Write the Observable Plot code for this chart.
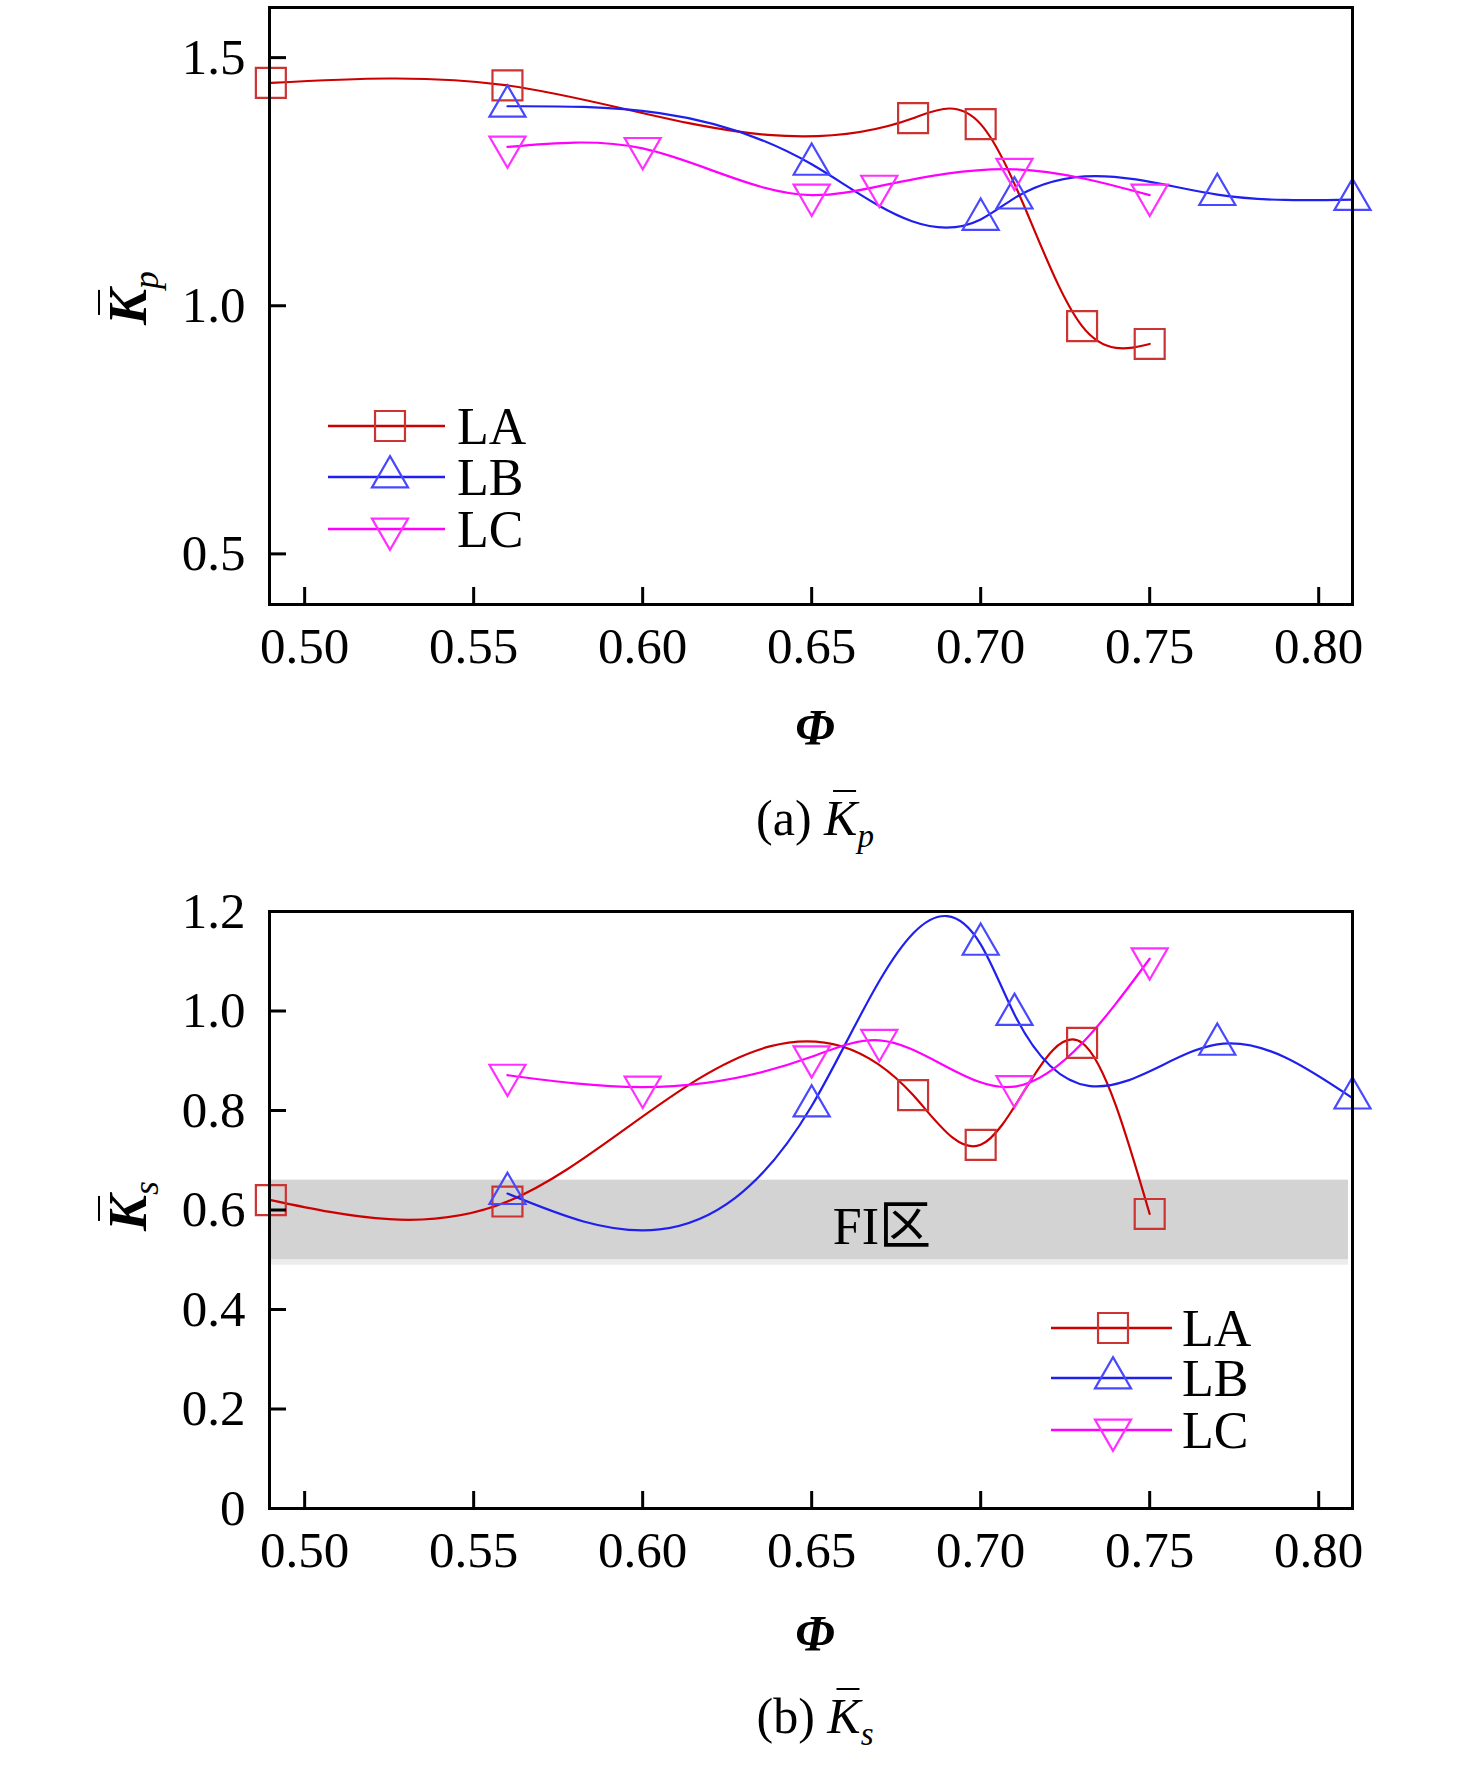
<!DOCTYPE html>
<html>
<head>
<meta charset="utf-8">
<script src="https://cdn.jsdelivr.net/npm/d3@7"></script>
<script src="https://cdn.jsdelivr.net/npm/@observablehq/plot@0.6"></script>
<style>
  body { margin: 0; background: #fff; }
  #wrap { position: relative; width: 1476px; height: 1772px; background: #fff;
          font-family: "Liberation Serif", "Times New Roman", serif; color: #000; overflow: hidden; }
  #wrap > svg { position: absolute; left: 0; }
  .lbl { position: absolute; transform: translate(-50%, -50%); white-space: nowrap; line-height: 1; }
  .ylab { transform: translate(-50%, -50%) rotate(-90deg); }
  .k { font-style: italic; position: relative; display: inline-block; }
  .k::before { content: ""; position: absolute; left: 0.18em; right: 0.02em; top: -0.06em; border-top: 0.05em solid #000; }
  .sub { font-style: italic; font-size: 0.66em; position: relative; top: 0.35em; }
</style>
</head>
<body>
<div id="wrap"></div>
<script>
// ---------- data ----------
const seriesNames = ["LA", "LB", "LC"];
const xDomain = [0.4896, 0.81];
const xTicks = [0.50, 0.55, 0.60, 0.65, 0.70, 0.75, 0.80];
const yDomainA = [0.398, 1.601];
const yTicksA = [0.5, 1.0, 1.5];
const yDomainB = [0, 1.2];
const yTicksB = [0, 0.2, 0.4, 0.6, 0.8, 1.0, 1.2];
const fiZone = [0.5, 0.66];
const fiEdge = [0.489, 0.5];

const phiLA = [0.49, 0.56, 0.68, 0.70, 0.73, 0.75];
const phiLB = [0.56, 0.65, 0.70, 0.71, 0.77, 0.81];
const phiLC = [0.56, 0.60, 0.65, 0.67, 0.71, 0.75];

// (a) mean Kp
const kpLA = [1.449, 1.444, 1.378, 1.366, 0.959, 0.923];
const kpLB = [1.402, 1.285, 1.174, 1.217, 1.224, 1.214];
const kpLC = [1.320, 1.317, 1.223, 1.241, 1.275, 1.223];
// (b) mean Ks
const ksLA = [0.620, 0.617, 0.831, 0.731, 0.936, 0.592];
const ksLB = [0.633, 0.809, 1.134, 0.993, 0.933, 0.825];
const ksLC = [0.871, 0.847, 0.908, 0.941, 0.848, 1.105];

const lineColors = ["#cc0000", "#2020ee", "#ff00ff"];
const markerColors = ["#cc3333", "#4848ff", "#ff30ff"];
const symbols = ["square", "triangle", "triangle"];
const rotations = [0, 0, 180];
const radii = [16.9, 13.4, 13.4];

// ---------- natural cubic spline y(x) curve ----------
function curveNaturalX(context) {
  return {
    areaStart() {}, areaEnd() {},
    lineStart() { this.X = []; this.Y = []; },
    point(x, y) { this.X.push(+x); this.Y.push(+y); },
    lineEnd() {
      const X = this.X, Y = this.Y, n = X.length, c = context;
      if (!n) return;
      c.moveTo(X[0], Y[0]);
      if (n === 2) { c.lineTo(X[1], Y[1]); return; }
      const h = [], s = [];
      for (let i = 0; i < n - 1; i++) { h[i] = X[i + 1] - X[i]; s[i] = (Y[i + 1] - Y[i]) / h[i]; }
      const m = n - 2, a = [], b = [], cc = [], d = [];
      for (let i = 1; i < n - 1; i++) { a.push(h[i - 1]); b.push(2 * (h[i - 1] + h[i])); cc.push(h[i]); d.push(6 * (s[i] - s[i - 1])); }
      for (let i = 1; i < m; i++) { const w = a[i] / b[i - 1]; b[i] -= w * cc[i - 1]; d[i] -= w * d[i - 1]; }
      const sol = new Array(m);
      sol[m - 1] = d[m - 1] / b[m - 1];
      for (let i = m - 2; i >= 0; i--) sol[i] = (d[i] - cc[i] * sol[i + 1]) / b[i];
      const M = [0, ...sol, 0];
      for (let i = 0; i < n - 1; i++) {
        const hh = h[i];
        const d0 = s[i] - hh * (2 * M[i] + M[i + 1]) / 6;
        const d1 = s[i] + hh * (M[i] + 2 * M[i + 1]) / 6;
        c.bezierCurveTo(X[i] + hh / 3, Y[i] + d0 * hh / 3, X[i + 1] - hh / 3, Y[i + 1] - d1 * hh / 3, X[i + 1], Y[i + 1]);
      }
    }
  };
}

function rows(xs, ys) { return xs.map((x, i) => ({x, y: ys[i]})); }

function panel({yDomain, yTicks, yFmt, height, marginTop, marginBottom, series, under = []}) {
  const marks = [...under];
  series.forEach((d, i) => {
    marks.push(Plot.line(d, {x: "x", y: "y", stroke: lineColors[i], strokeWidth: 2.2, curve: curveNaturalX}));
  });
  series.forEach((d, i) => {
    marks.push(Plot.dot(d, {x: "x", y: "y", symbol: symbols[i], r: radii[i], rotate: rotations[i],
      stroke: markerColors[i], strokeWidth: 2.2, fill: "none"}));
  });
  marks.push(
    Plot.axisX({ticks: xTicks, tickFormat: d => d.toFixed(2), tickSize: -17, tickPadding: 39, strokeWidth: 3, label: null}),
    Plot.axisY({ticks: yTicks, tickFormat: yFmt, tickSize: -17, tickPadding: 41, strokeWidth: 3, label: null}),
    Plot.frame({strokeWidth: 3, stroke: "#000"})
  );
  return Plot.plot({
    width: 1476, height, marginLeft: 269, marginRight: 124, marginTop, marginBottom,
    x: {domain: xDomain}, y: {domain: yDomain},
    style: {fontFamily: "'Liberation Serif', 'Times New Roman', serif", fontSize: "51px", color: "#000", background: "transparent", overflow: "visible"},
    marks
  });
}

const wrap = document.getElementById("wrap");

const svgA = panel({
  yDomain: yDomainA, yTicks: yTicksA, yFmt: d => d.toFixed(1),
  height: 690, marginTop: 7, marginBottom: 86,
  series: [rows(phiLA, kpLA), rows(phiLB, kpLB), rows(phiLC, kpLC)]
});
svgA.style.top = "0px";
wrap.appendChild(svgA);

const svgB = panel({
  yDomain: yDomainB, yTicks: yTicksB, yFmt: d => d === 0 ? "0" : d.toFixed(1),
  height: 720, marginTop: 31, marginBottom: 92,
  series: [rows(phiLA, ksLA), rows(phiLB, ksLB), rows(phiLC, ksLC)],
  under: [
    Plot.rect([{y1: fiEdge[0], y2: fiEdge[1]}], {y1: "y1", y2: "y2", fill: "#ececec", insetRight: 4}),
    Plot.rect([{y1: fiZone[0], y2: fiZone[1]}], {y1: "y1", y2: "y2", fill: "#d3d3d3", insetRight: 4})
  ]
});
svgB.style.top = "880px";
wrap.appendChild(svgB);

// ---------- text overlays ----------
function addText(html, x, y, cls = "", size = 50) {
  const el = document.createElement("div");
  el.className = "lbl " + cls;
  el.style.left = x + "px";
  el.style.top = y + "px";
  el.style.fontSize = size + "px";
  el.innerHTML = html;
  wrap.appendChild(el);
}
addText('<span class="k" style="font-weight:bold">K</span><span class="sub">p</span>', 128, 298, "ylab", 54);
addText('<span class="k" style="font-weight:bold">K</span><span class="sub">s</span>', 128, 1206, "ylab", 54);
addText('<b><i>Φ</i></b>', 815, 727, "", 50);
addText('<b><i>Φ</i></b>', 815, 1633, "", 50);
addText('(a) <span class="k">K</span><span class="sub">p</span>', 815, 818, "", 50);
addText('(b) <span class="k">K</span><span class="sub">s</span>', 815, 1716, "", 50);
addText('FI<span style="font-family:\'Noto Sans CJK SC\'">区</span>', 882, 1224, "", 52);

// ---------- legends ----------
const leg = d3.select(wrap).append("svg")
  .attr("width", 1476).attr("height", 1772)
  .style("position", "absolute").style("top", "0px").style("left", "0px")
  .style("pointer-events", "none");
function legend(x0, x1, xm, xt, ys) {
  seriesNames.forEach((name, i) => {
    const y = ys[i];
    leg.append("line").attr("x1", x0).attr("x2", x1).attr("y1", y).attr("y2", y)
      .attr("stroke", lineColors[i]).attr("stroke-width", 2.4);
    leg.append("path")
      .attr("d", d3.symbol(i === 0 ? d3.symbolSquare : d3.symbolTriangle, Math.PI * radii[i] * radii[i])())
      .attr("transform", `translate(${xm},${y}) rotate(${rotations[i]})`)
      .attr("fill", "none").attr("stroke", markerColors[i]).attr("stroke-width", 2.2);
    leg.append("text").attr("x", xt).attr("y", y).attr("dy", "0.34em")
      .attr("font-family", "'Liberation Serif', 'Times New Roman', serif")
      .attr("font-size", 52).attr("fill", "#000").text(name);
  });
}
legend(328, 445, 390, 457, [426, 477, 529]);
legend(1051, 1172, 1113, 1182, [1328, 1378, 1430]);
</script>
</body>
</html>
